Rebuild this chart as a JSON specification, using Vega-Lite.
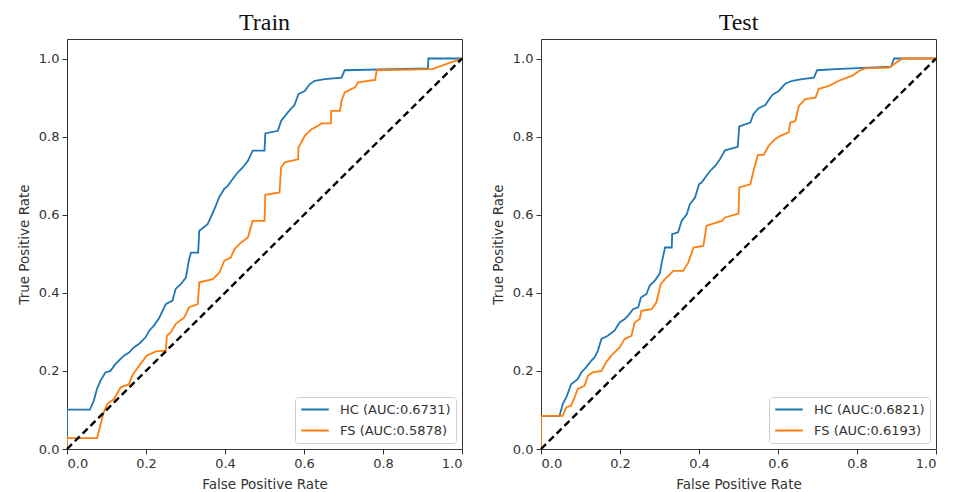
{
  "$schema": "https://vega.github.io/schema/vega-lite/v6.json",
  "background": "white",
  "padding": {"left": 16, "right": 10, "top": 10, "bottom": 4},
  "datasets": {
    "diag": [
      {"panel": "Train", "fpr": 0, "tpr": 0},
      {"panel": "Train", "fpr": 1, "tpr": 1},
      {"panel": "Test", "fpr": 0, "tpr": 0},
      {"panel": "Test", "fpr": 1, "tpr": 1}
    ],
    "roc": [
      {"panel":"Train","series":"HC (AUC:0.6731)","i":0,"fpr":0,"tpr":0},
      {"panel":"Train","series":"HC (AUC:0.6731)","i":1,"fpr":0,"tpr":0.101},
      {"panel":"Train","series":"HC (AUC:0.6731)","i":2,"fpr":0.058,"tpr":0.101},
      {"panel":"Train","series":"HC (AUC:0.6731)","i":3,"fpr":0.068,"tpr":0.124},
      {"panel":"Train","series":"HC (AUC:0.6731)","i":4,"fpr":0.076,"tpr":0.154},
      {"panel":"Train","series":"HC (AUC:0.6731)","i":5,"fpr":0.085,"tpr":0.175},
      {"panel":"Train","series":"HC (AUC:0.6731)","i":6,"fpr":0.097,"tpr":0.196},
      {"panel":"Train","series":"HC (AUC:0.6731)","i":7,"fpr":0.110,"tpr":0.200},
      {"panel":"Train","series":"HC (AUC:0.6731)","i":8,"fpr":0.123,"tpr":0.218},
      {"panel":"Train","series":"HC (AUC:0.6731)","i":9,"fpr":0.131,"tpr":0.226},
      {"panel":"Train","series":"HC (AUC:0.6731)","i":10,"fpr":0.144,"tpr":0.239},
      {"panel":"Train","series":"HC (AUC:0.6731)","i":11,"fpr":0.157,"tpr":0.247},
      {"panel":"Train","series":"HC (AUC:0.6731)","i":12,"fpr":0.169,"tpr":0.260},
      {"panel":"Train","series":"HC (AUC:0.6731)","i":13,"fpr":0.182,"tpr":0.269},
      {"panel":"Train","series":"HC (AUC:0.6731)","i":14,"fpr":0.199,"tpr":0.286},
      {"panel":"Train","series":"HC (AUC:0.6731)","i":15,"fpr":0.208,"tpr":0.303},
      {"panel":"Train","series":"HC (AUC:0.6731)","i":16,"fpr":0.220,"tpr":0.316},
      {"panel":"Train","series":"HC (AUC:0.6731)","i":17,"fpr":0.233,"tpr":0.335},
      {"panel":"Train","series":"HC (AUC:0.6731)","i":18,"fpr":0.250,"tpr":0.371},
      {"panel":"Train","series":"HC (AUC:0.6731)","i":19,"fpr":0.267,"tpr":0.380},
      {"panel":"Train","series":"HC (AUC:0.6731)","i":20,"fpr":0.275,"tpr":0.410},
      {"panel":"Train","series":"HC (AUC:0.6731)","i":21,"fpr":0.288,"tpr":0.422},
      {"panel":"Train","series":"HC (AUC:0.6731)","i":22,"fpr":0.301,"tpr":0.439},
      {"panel":"Train","series":"HC (AUC:0.6731)","i":23,"fpr":0.309,"tpr":0.486},
      {"panel":"Train","series":"HC (AUC:0.6731)","i":24,"fpr":0.314,"tpr":0.503},
      {"panel":"Train","series":"HC (AUC:0.6731)","i":25,"fpr":0.332,"tpr":0.503},
      {"panel":"Train","series":"HC (AUC:0.6731)","i":26,"fpr":0.335,"tpr":0.559},
      {"panel":"Train","series":"HC (AUC:0.6731)","i":27,"fpr":0.356,"tpr":0.576},
      {"panel":"Train","series":"HC (AUC:0.6731)","i":28,"fpr":0.364,"tpr":0.593},
      {"panel":"Train","series":"HC (AUC:0.6731)","i":29,"fpr":0.375,"tpr":0.619},
      {"panel":"Train","series":"HC (AUC:0.6731)","i":30,"fpr":0.386,"tpr":0.646},
      {"panel":"Train","series":"HC (AUC:0.6731)","i":31,"fpr":0.398,"tpr":0.666},
      {"panel":"Train","series":"HC (AUC:0.6731)","i":32,"fpr":0.407,"tpr":0.674},
      {"panel":"Train","series":"HC (AUC:0.6731)","i":33,"fpr":0.419,"tpr":0.691},
      {"panel":"Train","series":"HC (AUC:0.6731)","i":34,"fpr":0.432,"tpr":0.708},
      {"panel":"Train","series":"HC (AUC:0.6731)","i":35,"fpr":0.445,"tpr":0.721},
      {"panel":"Train","series":"HC (AUC:0.6731)","i":36,"fpr":0.458,"tpr":0.738},
      {"panel":"Train","series":"HC (AUC:0.6731)","i":37,"fpr":0.470,"tpr":0.764},
      {"panel":"Train","series":"HC (AUC:0.6731)","i":38,"fpr":0.500,"tpr":0.764},
      {"panel":"Train","series":"HC (AUC:0.6731)","i":39,"fpr":0.502,"tpr":0.808},
      {"panel":"Train","series":"HC (AUC:0.6731)","i":40,"fpr":0.534,"tpr":0.815},
      {"panel":"Train","series":"HC (AUC:0.6731)","i":41,"fpr":0.542,"tpr":0.840},
      {"panel":"Train","series":"HC (AUC:0.6731)","i":42,"fpr":0.559,"tpr":0.862},
      {"panel":"Train","series":"HC (AUC:0.6731)","i":43,"fpr":0.576,"tpr":0.881},
      {"panel":"Train","series":"HC (AUC:0.6731)","i":44,"fpr":0.586,"tpr":0.909},
      {"panel":"Train","series":"HC (AUC:0.6731)","i":45,"fpr":0.602,"tpr":0.917},
      {"panel":"Train","series":"HC (AUC:0.6731)","i":46,"fpr":0.614,"tpr":0.934},
      {"panel":"Train","series":"HC (AUC:0.6731)","i":47,"fpr":0.627,"tpr":0.943},
      {"panel":"Train","series":"HC (AUC:0.6731)","i":48,"fpr":0.653,"tpr":0.947},
      {"panel":"Train","series":"HC (AUC:0.6731)","i":49,"fpr":0.695,"tpr":0.951},
      {"panel":"Train","series":"HC (AUC:0.6731)","i":50,"fpr":0.703,"tpr":0.970},
      {"panel":"Train","series":"HC (AUC:0.6731)","i":51,"fpr":0.914,"tpr":0.975},
      {"panel":"Train","series":"HC (AUC:0.6731)","i":52,"fpr":0.915,"tpr":1.0},
      {"panel":"Train","series":"HC (AUC:0.6731)","i":53,"fpr":1,"tpr":1},

      {"panel":"Train","series":"FS (AUC:0.5878)","i":0,"fpr":0,"tpr":0},
      {"panel":"Train","series":"FS (AUC:0.5878)","i":1,"fpr":0,"tpr":0.028},
      {"panel":"Train","series":"FS (AUC:0.5878)","i":2,"fpr":0.076,"tpr":0.028},
      {"panel":"Train","series":"FS (AUC:0.5878)","i":3,"fpr":0.083,"tpr":0.055},
      {"panel":"Train","series":"FS (AUC:0.5878)","i":4,"fpr":0.093,"tpr":0.094},
      {"panel":"Train","series":"FS (AUC:0.5878)","i":5,"fpr":0.102,"tpr":0.115},
      {"panel":"Train","series":"FS (AUC:0.5878)","i":6,"fpr":0.119,"tpr":0.128},
      {"panel":"Train","series":"FS (AUC:0.5878)","i":7,"fpr":0.136,"tpr":0.158},
      {"panel":"Train","series":"FS (AUC:0.5878)","i":8,"fpr":0.157,"tpr":0.166},
      {"panel":"Train","series":"FS (AUC:0.5878)","i":9,"fpr":0.165,"tpr":0.188},
      {"panel":"Train","series":"FS (AUC:0.5878)","i":10,"fpr":0.186,"tpr":0.218},
      {"panel":"Train","series":"FS (AUC:0.5878)","i":11,"fpr":0.202,"tpr":0.239},
      {"panel":"Train","series":"FS (AUC:0.5878)","i":12,"fpr":0.225,"tpr":0.250},
      {"panel":"Train","series":"FS (AUC:0.5878)","i":13,"fpr":0.250,"tpr":0.252},
      {"panel":"Train","series":"FS (AUC:0.5878)","i":14,"fpr":0.253,"tpr":0.290},
      {"panel":"Train","series":"FS (AUC:0.5878)","i":15,"fpr":0.263,"tpr":0.299},
      {"panel":"Train","series":"FS (AUC:0.5878)","i":16,"fpr":0.275,"tpr":0.320},
      {"panel":"Train","series":"FS (AUC:0.5878)","i":17,"fpr":0.297,"tpr":0.337},
      {"panel":"Train","series":"FS (AUC:0.5878)","i":18,"fpr":0.309,"tpr":0.363},
      {"panel":"Train","series":"FS (AUC:0.5878)","i":19,"fpr":0.331,"tpr":0.371},
      {"panel":"Train","series":"FS (AUC:0.5878)","i":20,"fpr":0.335,"tpr":0.427},
      {"panel":"Train","series":"FS (AUC:0.5878)","i":21,"fpr":0.369,"tpr":0.435},
      {"panel":"Train","series":"FS (AUC:0.5878)","i":22,"fpr":0.386,"tpr":0.452},
      {"panel":"Train","series":"FS (AUC:0.5878)","i":23,"fpr":0.398,"tpr":0.482},
      {"panel":"Train","series":"FS (AUC:0.5878)","i":24,"fpr":0.415,"tpr":0.491},
      {"panel":"Train","series":"FS (AUC:0.5878)","i":25,"fpr":0.424,"tpr":0.512},
      {"panel":"Train","series":"FS (AUC:0.5878)","i":26,"fpr":0.441,"tpr":0.529},
      {"panel":"Train","series":"FS (AUC:0.5878)","i":27,"fpr":0.458,"tpr":0.542},
      {"panel":"Train","series":"FS (AUC:0.5878)","i":28,"fpr":0.470,"tpr":0.584},
      {"panel":"Train","series":"FS (AUC:0.5878)","i":29,"fpr":0.500,"tpr":0.584},
      {"panel":"Train","series":"FS (AUC:0.5878)","i":30,"fpr":0.502,"tpr":0.651},
      {"panel":"Train","series":"FS (AUC:0.5878)","i":31,"fpr":0.538,"tpr":0.657},
      {"panel":"Train","series":"FS (AUC:0.5878)","i":32,"fpr":0.542,"tpr":0.721},
      {"panel":"Train","series":"FS (AUC:0.5878)","i":33,"fpr":0.551,"tpr":0.734},
      {"panel":"Train","series":"FS (AUC:0.5878)","i":34,"fpr":0.585,"tpr":0.742},
      {"panel":"Train","series":"FS (AUC:0.5878)","i":35,"fpr":0.586,"tpr":0.772},
      {"panel":"Train","series":"FS (AUC:0.5878)","i":36,"fpr":0.602,"tpr":0.802},
      {"panel":"Train","series":"FS (AUC:0.5878)","i":37,"fpr":0.619,"tpr":0.819},
      {"panel":"Train","series":"FS (AUC:0.5878)","i":38,"fpr":0.636,"tpr":0.828},
      {"panel":"Train","series":"FS (AUC:0.5878)","i":39,"fpr":0.644,"tpr":0.834},
      {"panel":"Train","series":"FS (AUC:0.5878)","i":40,"fpr":0.668,"tpr":0.834},
      {"panel":"Train","series":"FS (AUC:0.5878)","i":41,"fpr":0.669,"tpr":0.866},
      {"panel":"Train","series":"FS (AUC:0.5878)","i":42,"fpr":0.691,"tpr":0.866},
      {"panel":"Train","series":"FS (AUC:0.5878)","i":43,"fpr":0.695,"tpr":0.892},
      {"panel":"Train","series":"FS (AUC:0.5878)","i":44,"fpr":0.703,"tpr":0.913},
      {"panel":"Train","series":"FS (AUC:0.5878)","i":45,"fpr":0.729,"tpr":0.926},
      {"panel":"Train","series":"FS (AUC:0.5878)","i":46,"fpr":0.737,"tpr":0.939},
      {"panel":"Train","series":"FS (AUC:0.5878)","i":47,"fpr":0.780,"tpr":0.945},
      {"panel":"Train","series":"FS (AUC:0.5878)","i":48,"fpr":0.784,"tpr":0.970},
      {"panel":"Train","series":"FS (AUC:0.5878)","i":49,"fpr":0.924,"tpr":0.973},
      {"panel":"Train","series":"FS (AUC:0.5878)","i":50,"fpr":1,"tpr":1},

      {"panel":"Test","series":"HC (AUC:0.6821)","i":0,"fpr":0,"tpr":0},
      {"panel":"Test","series":"HC (AUC:0.6821)","i":1,"fpr":0,"tpr":0.085},
      {"panel":"Test","series":"HC (AUC:0.6821)","i":2,"fpr":0.047,"tpr":0.085},
      {"panel":"Test","series":"HC (AUC:0.6821)","i":3,"fpr":0.055,"tpr":0.115},
      {"panel":"Test","series":"HC (AUC:0.6821)","i":4,"fpr":0.064,"tpr":0.132},
      {"panel":"Test","series":"HC (AUC:0.6821)","i":5,"fpr":0.072,"tpr":0.154},
      {"panel":"Test","series":"HC (AUC:0.6821)","i":6,"fpr":0.076,"tpr":0.166},
      {"panel":"Test","series":"HC (AUC:0.6821)","i":7,"fpr":0.093,"tpr":0.179},
      {"panel":"Test","series":"HC (AUC:0.6821)","i":8,"fpr":0.102,"tpr":0.196},
      {"panel":"Test","series":"HC (AUC:0.6821)","i":9,"fpr":0.114,"tpr":0.209},
      {"panel":"Test","series":"HC (AUC:0.6821)","i":10,"fpr":0.127,"tpr":0.226},
      {"panel":"Test","series":"HC (AUC:0.6821)","i":11,"fpr":0.136,"tpr":0.235},
      {"panel":"Test","series":"HC (AUC:0.6821)","i":12,"fpr":0.144,"tpr":0.252},
      {"panel":"Test","series":"HC (AUC:0.6821)","i":13,"fpr":0.153,"tpr":0.282},
      {"panel":"Test","series":"HC (AUC:0.6821)","i":14,"fpr":0.169,"tpr":0.290},
      {"panel":"Test","series":"HC (AUC:0.6821)","i":15,"fpr":0.186,"tpr":0.303},
      {"panel":"Test","series":"HC (AUC:0.6821)","i":16,"fpr":0.199,"tpr":0.324},
      {"panel":"Test","series":"HC (AUC:0.6821)","i":17,"fpr":0.212,"tpr":0.333},
      {"panel":"Test","series":"HC (AUC:0.6821)","i":18,"fpr":0.220,"tpr":0.341},
      {"panel":"Test","series":"HC (AUC:0.6821)","i":19,"fpr":0.233,"tpr":0.358},
      {"panel":"Test","series":"HC (AUC:0.6821)","i":20,"fpr":0.246,"tpr":0.363},
      {"panel":"Test","series":"HC (AUC:0.6821)","i":21,"fpr":0.253,"tpr":0.388},
      {"panel":"Test","series":"HC (AUC:0.6821)","i":22,"fpr":0.267,"tpr":0.397},
      {"panel":"Test","series":"HC (AUC:0.6821)","i":23,"fpr":0.275,"tpr":0.418},
      {"panel":"Test","series":"HC (AUC:0.6821)","i":24,"fpr":0.288,"tpr":0.431},
      {"panel":"Test","series":"HC (AUC:0.6821)","i":25,"fpr":0.301,"tpr":0.450},
      {"panel":"Test","series":"HC (AUC:0.6821)","i":26,"fpr":0.305,"tpr":0.474},
      {"panel":"Test","series":"HC (AUC:0.6821)","i":27,"fpr":0.314,"tpr":0.516},
      {"panel":"Test","series":"HC (AUC:0.6821)","i":28,"fpr":0.331,"tpr":0.516},
      {"panel":"Test","series":"HC (AUC:0.6821)","i":29,"fpr":0.332,"tpr":0.550},
      {"panel":"Test","series":"HC (AUC:0.6821)","i":30,"fpr":0.347,"tpr":0.555},
      {"panel":"Test","series":"HC (AUC:0.6821)","i":31,"fpr":0.356,"tpr":0.584},
      {"panel":"Test","series":"HC (AUC:0.6821)","i":32,"fpr":0.369,"tpr":0.601},
      {"panel":"Test","series":"HC (AUC:0.6821)","i":33,"fpr":0.377,"tpr":0.627},
      {"panel":"Test","series":"HC (AUC:0.6821)","i":34,"fpr":0.390,"tpr":0.644},
      {"panel":"Test","series":"HC (AUC:0.6821)","i":35,"fpr":0.400,"tpr":0.678},
      {"panel":"Test","series":"HC (AUC:0.6821)","i":36,"fpr":0.407,"tpr":0.683},
      {"panel":"Test","series":"HC (AUC:0.6821)","i":37,"fpr":0.419,"tpr":0.700},
      {"panel":"Test","series":"HC (AUC:0.6821)","i":38,"fpr":0.428,"tpr":0.712},
      {"panel":"Test","series":"HC (AUC:0.6821)","i":39,"fpr":0.441,"tpr":0.725},
      {"panel":"Test","series":"HC (AUC:0.6821)","i":40,"fpr":0.453,"tpr":0.742},
      {"panel":"Test","series":"HC (AUC:0.6821)","i":41,"fpr":0.466,"tpr":0.765},
      {"panel":"Test","series":"HC (AUC:0.6821)","i":42,"fpr":0.498,"tpr":0.774},
      {"panel":"Test","series":"HC (AUC:0.6821)","i":43,"fpr":0.502,"tpr":0.826},
      {"panel":"Test","series":"HC (AUC:0.6821)","i":44,"fpr":0.530,"tpr":0.836},
      {"panel":"Test","series":"HC (AUC:0.6821)","i":45,"fpr":0.538,"tpr":0.858},
      {"panel":"Test","series":"HC (AUC:0.6821)","i":46,"fpr":0.551,"tpr":0.873},
      {"panel":"Test","series":"HC (AUC:0.6821)","i":47,"fpr":0.568,"tpr":0.881},
      {"panel":"Test","series":"HC (AUC:0.6821)","i":48,"fpr":0.576,"tpr":0.893},
      {"panel":"Test","series":"HC (AUC:0.6821)","i":49,"fpr":0.586,"tpr":0.907},
      {"panel":"Test","series":"HC (AUC:0.6821)","i":50,"fpr":0.602,"tpr":0.917},
      {"panel":"Test","series":"HC (AUC:0.6821)","i":51,"fpr":0.619,"tpr":0.936},
      {"panel":"Test","series":"HC (AUC:0.6821)","i":52,"fpr":0.636,"tpr":0.943},
      {"panel":"Test","series":"HC (AUC:0.6821)","i":53,"fpr":0.661,"tpr":0.947},
      {"panel":"Test","series":"HC (AUC:0.6821)","i":54,"fpr":0.691,"tpr":0.951},
      {"panel":"Test","series":"HC (AUC:0.6821)","i":55,"fpr":0.699,"tpr":0.970},
      {"panel":"Test","series":"HC (AUC:0.6821)","i":56,"fpr":0.746,"tpr":0.973},
      {"panel":"Test","series":"HC (AUC:0.6821)","i":57,"fpr":0.886,"tpr":0.979},
      {"panel":"Test","series":"HC (AUC:0.6821)","i":58,"fpr":0.894,"tpr":1.0},
      {"panel":"Test","series":"HC (AUC:0.6821)","i":59,"fpr":1,"tpr":1},

      {"panel":"Test","series":"FS (AUC:0.6193)","i":0,"fpr":0,"tpr":0},
      {"panel":"Test","series":"FS (AUC:0.6193)","i":1,"fpr":0,"tpr":0.085},
      {"panel":"Test","series":"FS (AUC:0.6193)","i":2,"fpr":0.055,"tpr":0.085},
      {"panel":"Test","series":"FS (AUC:0.6193)","i":3,"fpr":0.064,"tpr":0.107},
      {"panel":"Test","series":"FS (AUC:0.6193)","i":4,"fpr":0.076,"tpr":0.111},
      {"panel":"Test","series":"FS (AUC:0.6193)","i":5,"fpr":0.085,"tpr":0.132},
      {"panel":"Test","series":"FS (AUC:0.6193)","i":6,"fpr":0.093,"tpr":0.154},
      {"panel":"Test","series":"FS (AUC:0.6193)","i":7,"fpr":0.110,"tpr":0.162},
      {"panel":"Test","series":"FS (AUC:0.6193)","i":8,"fpr":0.119,"tpr":0.188},
      {"panel":"Test","series":"FS (AUC:0.6193)","i":9,"fpr":0.131,"tpr":0.196},
      {"panel":"Test","series":"FS (AUC:0.6193)","i":10,"fpr":0.153,"tpr":0.200},
      {"panel":"Test","series":"FS (AUC:0.6193)","i":11,"fpr":0.165,"tpr":0.222},
      {"panel":"Test","series":"FS (AUC:0.6193)","i":12,"fpr":0.178,"tpr":0.239},
      {"panel":"Test","series":"FS (AUC:0.6193)","i":13,"fpr":0.199,"tpr":0.260},
      {"panel":"Test","series":"FS (AUC:0.6193)","i":14,"fpr":0.212,"tpr":0.282},
      {"panel":"Test","series":"FS (AUC:0.6193)","i":15,"fpr":0.229,"tpr":0.290},
      {"panel":"Test","series":"FS (AUC:0.6193)","i":16,"fpr":0.237,"tpr":0.324},
      {"panel":"Test","series":"FS (AUC:0.6193)","i":17,"fpr":0.250,"tpr":0.333},
      {"panel":"Test","series":"FS (AUC:0.6193)","i":18,"fpr":0.254,"tpr":0.354},
      {"panel":"Test","series":"FS (AUC:0.6193)","i":19,"fpr":0.280,"tpr":0.358},
      {"panel":"Test","series":"FS (AUC:0.6193)","i":20,"fpr":0.292,"tpr":0.375},
      {"panel":"Test","series":"FS (AUC:0.6193)","i":21,"fpr":0.303,"tpr":0.422},
      {"panel":"Test","series":"FS (AUC:0.6193)","i":22,"fpr":0.314,"tpr":0.435},
      {"panel":"Test","series":"FS (AUC:0.6193)","i":23,"fpr":0.335,"tpr":0.456},
      {"panel":"Test","series":"FS (AUC:0.6193)","i":24,"fpr":0.360,"tpr":0.456},
      {"panel":"Test","series":"FS (AUC:0.6193)","i":25,"fpr":0.373,"tpr":0.478},
      {"panel":"Test","series":"FS (AUC:0.6193)","i":26,"fpr":0.386,"tpr":0.516},
      {"panel":"Test","series":"FS (AUC:0.6193)","i":27,"fpr":0.411,"tpr":0.520},
      {"panel":"Test","series":"FS (AUC:0.6193)","i":28,"fpr":0.419,"tpr":0.572},
      {"panel":"Test","series":"FS (AUC:0.6193)","i":29,"fpr":0.458,"tpr":0.584},
      {"panel":"Test","series":"FS (AUC:0.6193)","i":30,"fpr":0.466,"tpr":0.593},
      {"panel":"Test","series":"FS (AUC:0.6193)","i":31,"fpr":0.500,"tpr":0.603},
      {"panel":"Test","series":"FS (AUC:0.6193)","i":32,"fpr":0.502,"tpr":0.670},
      {"panel":"Test","series":"FS (AUC:0.6193)","i":33,"fpr":0.530,"tpr":0.678},
      {"panel":"Test","series":"FS (AUC:0.6193)","i":34,"fpr":0.538,"tpr":0.712},
      {"panel":"Test","series":"FS (AUC:0.6193)","i":35,"fpr":0.549,"tpr":0.753},
      {"panel":"Test","series":"FS (AUC:0.6193)","i":36,"fpr":0.564,"tpr":0.753},
      {"panel":"Test","series":"FS (AUC:0.6193)","i":37,"fpr":0.576,"tpr":0.776},
      {"panel":"Test","series":"FS (AUC:0.6193)","i":38,"fpr":0.593,"tpr":0.794},
      {"panel":"Test","series":"FS (AUC:0.6193)","i":39,"fpr":0.606,"tpr":0.802},
      {"panel":"Test","series":"FS (AUC:0.6193)","i":40,"fpr":0.627,"tpr":0.811},
      {"panel":"Test","series":"FS (AUC:0.6193)","i":41,"fpr":0.631,"tpr":0.836},
      {"panel":"Test","series":"FS (AUC:0.6193)","i":42,"fpr":0.644,"tpr":0.840},
      {"panel":"Test","series":"FS (AUC:0.6193)","i":43,"fpr":0.653,"tpr":0.879},
      {"panel":"Test","series":"FS (AUC:0.6193)","i":44,"fpr":0.669,"tpr":0.896},
      {"panel":"Test","series":"FS (AUC:0.6193)","i":45,"fpr":0.695,"tpr":0.900},
      {"panel":"Test","series":"FS (AUC:0.6193)","i":46,"fpr":0.703,"tpr":0.922},
      {"panel":"Test","series":"FS (AUC:0.6193)","i":47,"fpr":0.729,"tpr":0.930},
      {"panel":"Test","series":"FS (AUC:0.6193)","i":48,"fpr":0.754,"tpr":0.943},
      {"panel":"Test","series":"FS (AUC:0.6193)","i":49,"fpr":0.788,"tpr":0.956},
      {"panel":"Test","series":"FS (AUC:0.6193)","i":50,"fpr":0.805,"tpr":0.968},
      {"panel":"Test","series":"FS (AUC:0.6193)","i":51,"fpr":0.822,"tpr":0.975},
      {"panel":"Test","series":"FS (AUC:0.6193)","i":52,"fpr":0.881,"tpr":0.977},
      {"panel":"Test","series":"FS (AUC:0.6193)","i":53,"fpr":0.915,"tpr":1.0},
      {"panel":"Test","series":"FS (AUC:0.6193)","i":54,"fpr":1,"tpr":1}
    ]
  },
  "bounds": "flush",
  "spacing": 79,
  "resolve": {"scale": {"color": "independent"}},
  "hconcat": [
    {
      "width": 395, "height": 410,
      "title": {"text": "Train"},
      "layer": [
        {
          "data": {"name": "roc"},
          "transform": [{"filter": "datum.panel === 'Train'"}],
          "mark": {"type": "line", "strokeWidth": 1.8, "clip": true},
          "encoding": {
            "x": {"field": "fpr", "type": "quantitative", "scale": {"domain": [0, 1], "nice": false}, "axis": {"title": "False Positive Rate", "values": [0, 0.2, 0.4, 0.6, 0.8, 1.0], "format": ".1f"}},
            "y": {"field": "tpr", "type": "quantitative", "scale": {"domain": [0, 1.05], "nice": false}, "axis": {"title": "True Positive Rate", "values": [0, 0.2, 0.4, 0.6, 0.8, 1.0], "format": ".1f"}},
            "color": {"field": "series", "type": "nominal", "scale": {"domain": ["HC (AUC:0.6731)", "FS (AUC:0.5878)"], "range": ["#1f77b4", "#ff7f0e"]}, "legend": {"title": null, "orient": "bottom-right", "offset": 6}},
            "order": {"field": "i", "type": "quantitative"}
          }
        },
        {
          "data": {"name": "diag"},
          "transform": [{"filter": "datum.panel === 'Train'"}],
          "mark": {"type": "line", "color": "black", "strokeWidth": 2.4, "strokeDash": [7, 4]},
          "encoding": {
            "x": {"field": "fpr", "type": "quantitative"},
            "y": {"field": "tpr", "type": "quantitative"}
          }
        }
      ]
    },
    {
      "width": 395, "height": 410,
      "title": {"text": "Test"},
      "layer": [
        {
          "data": {"name": "roc"},
          "transform": [{"filter": "datum.panel === 'Test'"}],
          "mark": {"type": "line", "strokeWidth": 1.8, "clip": true},
          "encoding": {
            "x": {"field": "fpr", "type": "quantitative", "scale": {"domain": [0, 1], "nice": false}, "axis": {"title": "False Positive Rate", "values": [0, 0.2, 0.4, 0.6, 0.8, 1.0], "format": ".1f"}},
            "y": {"field": "tpr", "type": "quantitative", "scale": {"domain": [0, 1.05], "nice": false}, "axis": {"title": "True Positive Rate", "values": [0, 0.2, 0.4, 0.6, 0.8, 1.0], "format": ".1f"}},
            "color": {"field": "series", "type": "nominal", "scale": {"domain": ["HC (AUC:0.6821)", "FS (AUC:0.6193)"], "range": ["#1f77b4", "#ff7f0e"]}, "legend": {"title": null, "orient": "bottom-right", "offset": 6}},
            "order": {"field": "i", "type": "quantitative"}
          }
        },
        {
          "data": {"name": "diag"},
          "transform": [{"filter": "datum.panel === 'Test'"}],
          "mark": {"type": "line", "color": "black", "strokeWidth": 2.4, "strokeDash": [7, 4]},
          "encoding": {
            "x": {"field": "fpr", "type": "quantitative"},
            "y": {"field": "tpr", "type": "quantitative"}
          }
        }
      ]
    }
  ],
  "config": {
    "view": {"stroke": "#333", "strokeWidth": 1},
    "axis": {
      "labelFont": "DejaVu Sans", "labelFontSize": 13, "labelColor": "#333",
      "titleFont": "DejaVu Sans", "titleFontSize": 13.5, "titleFontWeight": "normal", "titleColor": "#333",
      "tickColor": "#333", "tickSize": 5, "labelPadding": 3, "titlePadding": 7,
      "domain": false, "grid": false
    },
    "legend": {
      "labelFont": "DejaVu Sans", "labelFontSize": 13, "labelColor": "#333",
      "symbolType": "stroke", "symbolStrokeWidth": 2, "symbolSize": 760,
      "clipHeight": 15, "fillColor": "white", "strokeColor": "#d0d0d0", "cornerRadius": 3,
      "padding": 5, "rowPadding": 6, "labelOffset": 10
    },
    "title": {"font": "Liberation Serif", "fontSize": 24, "fontWeight": "normal", "color": "#111", "offset": 4}
  }
}
